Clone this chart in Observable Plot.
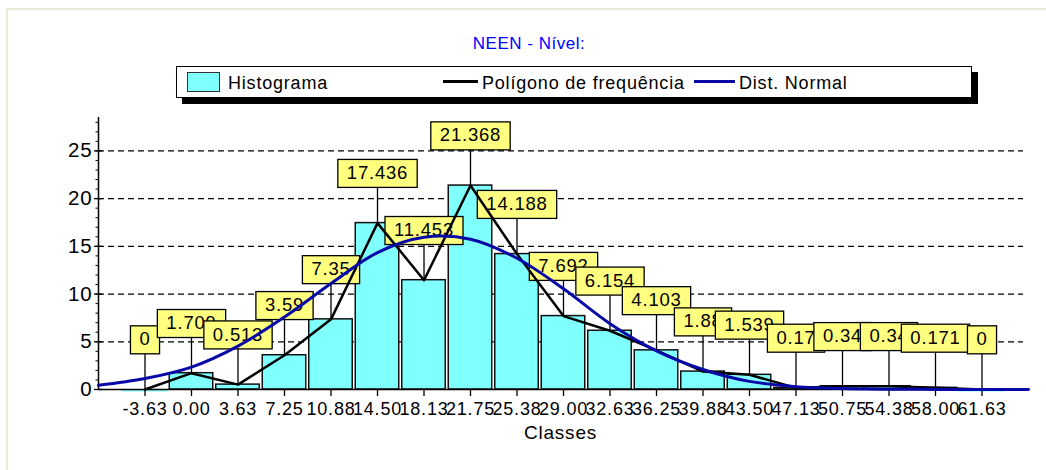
<!DOCTYPE html>
<html>
<head>
<meta charset="utf-8">
<script src="https://cdn.jsdelivr.net/npm/d3@7"></script>
<script src="https://cdn.jsdelivr.net/npm/@observablehq/plot@0.6"></script>
<style>
  body { margin: 0; background: #fff; font-family: "Liberation Sans", Arial, sans-serif; }
  #wrap { position: relative; width: 1046px; height: 470px; overflow: hidden; background: #fff; }
  #frame { position: absolute; left: 6px; top: 8px; right: -4px; bottom: -4px;
           border-top: 2px solid #ECE9D8; border-left: 2px solid #ECE9D8; }
  #title { position: absolute; left: 0; width: 1058px; top: 35px; text-align: center;
           color: #0000FF; font-size: 17px; line-height: 17px; letter-spacing: 0.5px; }
  #legend { position: absolute; left: 176px; top: 66px; width: 794px; height: 30px;
            border: 1px solid #000; background: #fff; box-shadow: 6px 6px 0 #000; }
  #legend .sw { position: absolute; }
  #legend .lt { position: absolute; top: 7px; font-size: 18px; line-height: 18px; letter-spacing: 0.8px; color: #000; white-space: nowrap; }
  #chart { position: absolute; left: 0; top: 105px; }
</style>
</head>
<body>
<div id="wrap">
  <div id="frame"></div>
  <div id="title"></div>
  <div id="legend"></div>
  <div id="chart"></div>
</div>
<script>
// ---- data ----
const chartTitle = "NEEN - Nível:";
const xTitle = "Classes";
const legendLabels = ["Histograma", "Polígono de frequência", "Dist. Normal"];
const classes = [-3.625, 0, 3.625, 7.25, 10.875, 14.5, 18.125, 21.75, 25.375, 29, 32.625, 36.25, 39.875, 43.5, 47.125, 50.75, 54.375, 58, 61.625];
const tickLabels = ["-3.63", "0.00", "3.63", "7.25", "10.88", "14.50", "18.13", "21.75", "25.38", "29.00", "32.63", "36.25", "39.88", "43.50", "47.13", "50.75", "54.38", "58.00", "61.63"];
const freq = [0, 1.709, 0.513, 3.59, 7.35, 17.436, 11.453, 21.368, 14.188, 7.692, 6.154, 4.103, 1.88, 1.539, 0.17, 0.34, 0.34, 0.171, 0];
const normalX = [-7.25, -3.625, 0, 3.625, 7.25, 10.875, 14.5, 18.125, 21.75, 25.375, 29, 32.625, 36.25, 39.875, 43.5, 47.125, 50.75, 54.375, 58, 61.625, 65.25];
const normalY = [0.44, 1.15, 2.35, 4.55, 7.6, 11.1, 14.35, 15.95, 15.75, 13.75, 10.55, 6.9, 4.05, 2.1, 0.85, 0.3, 0.1, 0.03, 0.01, 0, 0];
const yTicks = [0, 5, 10, 15, 20, 25];
const yMax = 28.5;

// ---- colours ----
const cBar = "#80FFFF", cLabel = "#FFFF80", cNormal = "#0808A8";

// ---- header ----
document.getElementById("title").textContent = chartTitle;
const lg = document.getElementById("legend");
const legendItems = [
  {sw: `left:10px;top:5px;width:31px;height:18px;background:${cBar};border:1px solid #333;`, tx: 51},
  {sw: `left:266px;top:13px;width:35px;height:3px;background:#000;`, tx: 305},
  {sw: `left:517px;top:13px;width:41px;height:3px;background:${cNormal};`, tx: 562}
];
legendItems.forEach((it, i) => {
  const s = document.createElement("div"); s.className = "sw"; s.style.cssText = it.sw; lg.appendChild(s);
  const t = document.createElement("div"); t.className = "lt"; t.style.left = it.tx + "px"; t.textContent = legendLabels[i]; lg.appendChild(t);
});

// ---- chart ----
const rows = classes.map((c, i) => ({c, v: freq[i], label: tickLabels[i]}));
const norm = normalX.map((x, i) => ({x, y: normalY[i]}));
const half = (classes[1] - classes[0]) / 2;
const xmin = normalX[0], xmax = normalX[normalX.length - 1];
const minor = d3.range(0, Math.floor(yMax) + 1);
const labelFill = "#010101";

const plot = Plot.plot({
  width: 1046, height: 365,
  marginTop: 12, marginBottom: 81, marginLeft: 98, marginRight: 18,
  x: {domain: [xmin, xmax], axis: null},
  y: {domain: [0, yMax], axis: null},
  style: {fontFamily: '"Liberation Sans", Arial, sans-serif', fontSize: "18px", letterSpacing: "0.8px", background: "transparent", color: "#000", overflow: "visible"},
  marks: [
    Plot.ruleY(yTicks.filter(d => d > 0), {stroke: "#000", strokeWidth: 1.2, strokeDasharray: "6,4", insetRight: 5}),
    Plot.rectY(rows.filter(d => d.v > 0), {x1: d => d.c - half, x2: d => d.c + half, y: "v", fill: cBar, stroke: "#111", strokeWidth: 1.5, insetLeft: 1.5, insetRight: 1.5}),
    Plot.ruleY(rows.filter(d => d.v === 0), {y: "v", x1: d => d.c - half, x2: d => d.c + half, stroke: cBar, strokeWidth: 2, dy: 1}),
    // axes
    Plot.ruleX([xmin], {stroke: "#000", strokeWidth: 1.5}),
    Plot.ruleY([0], {stroke: "#000", strokeWidth: 1.5}),
    Plot.ruleY(yTicks, {x1: xmin, x2: xmin, insetLeft: -4, insetRight: -4, stroke: "#000", strokeWidth: 1.3}),
    Plot.ruleY(minor, {x1: xmin, x2: xmin, insetLeft: -2.5, stroke: "#000", strokeWidth: 1}),
    Plot.ruleX(classes, {y1: 0, y2: 0, insetBottom: -7, stroke: "#000", strokeWidth: 1.3}),
    Plot.text(rows, {x: "c", frameAnchor: "bottom", text: "label", dy: 25, fontSize: 18, fill: "#000"}),
    Plot.text(yTicks, {y: d => d, frameAnchor: "left", textAnchor: "end", dx: -6, fontSize: 20.5, fill: "#000"}),
    Plot.text([xTitle], {frameAnchor: "bottom", dx: -3, dy: 49, fontSize: 19, fill: "#000"}),
    // value labels with stems
    Plot.ruleX(rows, {x: "c", y1: "v", y2: "v", insetTop: -36, stroke: "#000", strokeWidth: 1.3}),
    Plot.text(rows, {x: "c", y: "v", text: d => String(d.v), dy: -50, fontSize: 18.5, fill: labelFill}),
    // frequency polygon and normal curve
    Plot.line(rows, {x: "c", y: "v", stroke: "#000", strokeWidth: 2.5}),
    Plot.line(norm, {x: "x", y: "y", curve: "catmull-rom", stroke: cNormal, strokeWidth: 3})
  ]
});
document.getElementById("chart").appendChild(plot);

// yellow boxes behind each value label
const lblGroup = plot.querySelector(`g[fill="${labelFill}"]`);
if (lblGroup) {
  lblGroup.querySelectorAll("text").forEach(t => {
    const b = t.getBBox();
    const r = document.createElementNS("http://www.w3.org/2000/svg", "rect");
    const ty = parseFloat(t.getAttribute("y") || 0);
    r.setAttribute("x", b.x - 9);
    r.setAttribute("y", ty - 14);
    r.setAttribute("width", b.width + 18);
    r.setAttribute("height", 28);
    r.setAttribute("fill", cLabel);
    r.setAttribute("stroke", "#000");
    r.setAttribute("stroke-width", 1.3);
    const tr = t.getAttribute("transform");
    if (tr) r.setAttribute("transform", tr);
    t.parentNode.insertBefore(r, t);
  });
}
</script>
</body>
</html>
